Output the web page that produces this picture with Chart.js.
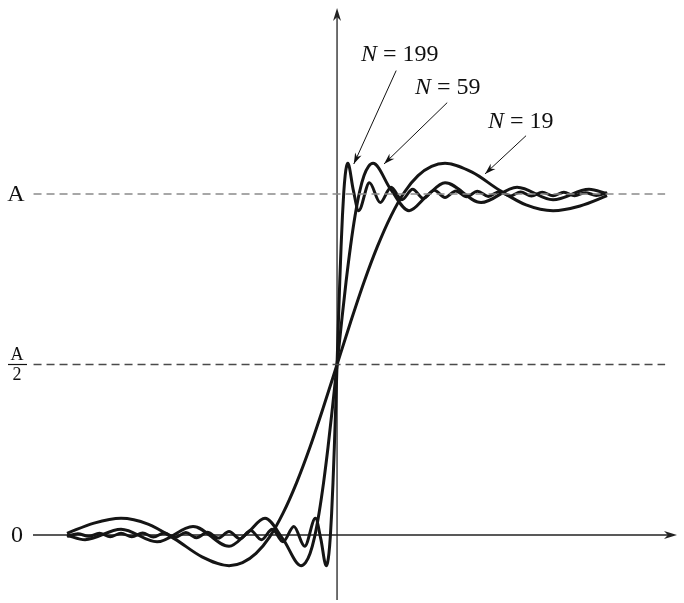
<!DOCTYPE html>
<html>
<head>
<meta charset="utf-8">
<script src="https://cdn.jsdelivr.net/npm/chart.js@4.4.1/dist/chart.umd.min.js"></script>
<style>
  html, body { margin: 0; padding: 0; background: #fff; }
  #wrap { width: 684px; height: 603px; position: relative; }
</style>
</head>
<body>
<div id="wrap"><canvas id="gibbs"></canvas></div>
<script>
// x runs along the axis (curves end at -1 and 1), y is the level (0 .. 1 = A)
var x19 = [-1.0, -0.9, -0.8, -0.7, -0.6, -0.5, -0.4, -0.35, -0.3, -0.25, -0.2, -0.15, -0.1, -0.05,
           0, 0.05, 0.1, 0.15, 0.2, 0.25, 0.3, 0.35, 0.4, 0.5, 0.6, 0.7, 0.8, 0.9, 1.0];
var y19 = [0.005, 0.035, 0.049, 0.032, -0.012, -0.064, -0.090, -0.081, -0.054, -0.006, 0.064, 0.153, 0.258, 0.376,
           0.5, 0.624, 0.742, 0.847, 0.936, 1.006, 1.054, 1.081, 1.090, 1.064, 1.012, 0.968, 0.951, 0.965, 0.995];

var x59 = [-1.0, -0.9333, -0.8, -0.6667, -0.5333, -0.4, -0.3333, -0.2667, -0.2, -0.1333, -0.1167, -0.1, -0.0833, -0.0667, -0.05, -0.0333, -0.0167,
           0, 0.0167, 0.0333, 0.05, 0.0667, 0.0833, 0.1, 0.1167, 0.1333, 0.2, 0.2667, 0.3333, 0.4, 0.5333, 0.6667, 0.8, 0.9333, 1.0];
var y59 = [-0.001, -0.014, 0.017, -0.020, 0.025, -0.033, 0.005, 0.049, -0.012, -0.090, -0.081, -0.054, -0.006, 0.064, 0.153, 0.258, 0.376,
           0.5, 0.624, 0.742, 0.847, 0.936, 1.006, 1.054, 1.081, 1.090, 1.012, 0.951, 0.995, 1.033, 0.975, 1.020, 0.983, 1.014, 1.001];

var x199 = [-1.0, -0.96, -0.92, -0.88, -0.84, -0.8, -0.76, -0.72, -0.68, -0.64, -0.6, -0.56, -0.52, -0.48, -0.44, -0.4,
            -0.36, -0.32, -0.28, -0.24, -0.2, -0.16, -0.12, -0.08, -0.06, -0.04, -0.035, -0.03, -0.025, -0.02, -0.015, -0.01, -0.005,
            0, 0.005, 0.01, 0.015, 0.02, 0.025, 0.03, 0.035, 0.04, 0.06, 0.08, 0.12, 0.16, 0.2, 0.24, 0.28, 0.32, 0.36,
            0.4, 0.44, 0.48, 0.52, 0.56, 0.6, 0.64, 0.68, 0.72, 0.76, 0.8, 0.84, 0.88, 0.92, 0.96, 1.0];
var y199 = [-0.004, 0.004, -0.004, 0.005, -0.005, 0.005, -0.005, 0.006, -0.006, 0.006, -0.007, 0.007, -0.008, 0.008, -0.009, 0.010,
            -0.011, 0.013, -0.014, 0.017, -0.020, 0.025, -0.033, 0.049, -0.012, -0.090, -0.081, -0.054, -0.006, 0.064, 0.153, 0.258, 0.376,
            0.5, 0.624, 0.742, 0.847, 0.936, 1.006, 1.054, 1.081, 1.090, 1.012, 0.951, 1.033, 0.975, 1.020, 0.983, 1.014, 0.987, 1.011,
            0.990, 1.009, 0.992, 1.008, 0.993, 1.007, 0.994, 1.006, 0.994, 1.005, 0.995, 1.005, 0.995, 1.004, 0.996, 1.004];

var levelTicks = [0, 0.5, 1];
var curveNames = ["N = 199", "N = 59", "N = 19"];

function toPoints(xs, ys) {
    return xs.map(function (x, i) { return { x: x, y: ys[i] }; });
}

var ink = '#151515';

function curve(xs, ys) {
    return {
        data: toPoints(xs, ys),
        borderColor: ink,
        borderWidth: 3,
        pointRadius: 0,
        fill: false,
        cubicInterpolationMode: 'monotone'
    };
}

function refLine(level, color) {
    return {
        data: [{ x: -1.124, y: level }, { x: 1.215, y: level }],
        borderColor: color,
        borderWidth: 1.4,
        borderDash: [8, 5],
        pointRadius: 0,
        fill: false
    };
}

function arrowHead(c, x1, y1, x2, y2, len, half) {
    var a = Math.atan2(y2 - y1, x2 - x1);
    c.beginPath();
    c.moveTo(x2, y2);
    c.lineTo(x2 - len * Math.cos(a) + half * Math.sin(a), y2 - len * Math.sin(a) - half * Math.cos(a));
    c.lineTo(x2 - 0.7 * len * Math.cos(a), y2 - 0.7 * len * Math.sin(a));
    c.lineTo(x2 - len * Math.cos(a) - half * Math.sin(a), y2 - len * Math.sin(a) + half * Math.cos(a));
    c.closePath();
    c.fill();
}

var decor = {
    id: 'decor',
    beforeDatasetsDraw: function (chart) {
        var c = chart.ctx, xs = chart.scales.x, ys = chart.scales.y, area = chart.chartArea;
        var x0 = xs.getPixelForValue(0), y0 = ys.getPixelForValue(0);
        c.save();
        c.strokeStyle = '#222';
        c.fillStyle = '#222';
        c.lineWidth = 1.3;
        // horizontal axis
        c.beginPath();
        c.moveTo(area.left, y0);
        c.lineTo(area.right - 6, y0);
        c.stroke();
        arrowHead(c, area.left, y0, area.right, y0, 13, 4);
        // vertical axis
        c.beginPath();
        c.moveTo(x0, area.bottom);
        c.lineTo(x0, area.top + 6);
        c.stroke();
        arrowHead(c, x0, area.bottom, x0, area.top, 13, 4);
        c.restore();
    },
    afterDatasetsDraw: function (chart) {
        var c = chart.ctx, xs = chart.scales.x, ys = chart.scales.y;
        var px = function (v) { return xs.getPixelForValue(v); };
        var py = function (v) { return ys.getPixelForValue(v); };
        c.save();
        c.fillStyle = '#111';
        c.strokeStyle = '#111';
        c.textBaseline = 'middle';
        c.textAlign = 'center';

        // level labels
        c.font = '24px "Liberation Serif", serif';
        c.fillText("0", 17, py(levelTicks[0]) + 1);
        c.fillText("A", 16, py(levelTicks[2]) + 1);
        var ym = py(levelTicks[1]);
        c.font = '18px "Liberation Serif", serif';
        c.fillText("A", 17, ym - 9);
        c.fillText("2", 17, ym + 11);
        c.lineWidth = 1.2;
        c.beginPath();
        c.moveTo(8, ym);
        c.lineTo(27, ym);
        c.stroke();

        // curve labels with arrows
        var notes = [
            { name: curveNames[0], tx: 0.089, ty: 1.408, from: [0.219, 1.362], to: [0.062, 1.088] },
            { name: curveNames[1], tx: 0.289, ty: 1.311, from: [0.408, 1.268], to: [0.174, 1.088] },
            { name: curveNames[2], tx: 0.559, ty: 1.211, from: [0.700, 1.171], to: [0.548, 1.059] }
        ];
        c.textAlign = 'left';
        notes.forEach(function (n) {
            var x = px(n.tx), y = py(n.ty);
            c.font = 'italic 24px "Liberation Serif", serif';
            c.fillText(n.name.charAt(0), x, y);
            var w = c.measureText(n.name.charAt(0)).width;
            c.font = '24px "Liberation Serif", serif';
            c.fillText(n.name.slice(1), x + w, y);

            var x1 = px(n.from[0]), y1 = py(n.from[1]), x2 = px(n.to[0]), y2 = py(n.to[1]);
            c.lineWidth = 1;
            c.beginPath();
            c.moveTo(x1, y1);
            c.lineTo(x2, y2);
            c.stroke();
            arrowHead(c, x1, y1, x2, y2, 11, 3.5);
        });
        c.restore();
    }
};

var ctxGibbs = document.getElementById("gibbs");
var chartGibbs = new Chart(ctxGibbs, {
    type: 'line',
    data: {
        datasets: [
            refLine(levelTicks[2], '#8a8a8a'),
            refLine(levelTicks[1], '#4a4a4a'),
            curve(x19, y19),
            curve(x59, y59),
            curve(x199, y199)
        ]
    },
    options: {
        responsive: true,
        maintainAspectRatio: false,
        animation: false,
        layout: { padding: { left: 33, right: 7, top: 8, bottom: 3 } },
        scales: {
            x: { type: 'linear', min: -1.126, max: 1.259, display: false },
            y: { type: 'linear', min: -0.1906, max: 1.5455, display: false }
        },
        plugins: {
            legend: { display: false },
            tooltip: { enabled: false }
        }
    },
    plugins: [decor]
});
</script>
</body>
</html>
